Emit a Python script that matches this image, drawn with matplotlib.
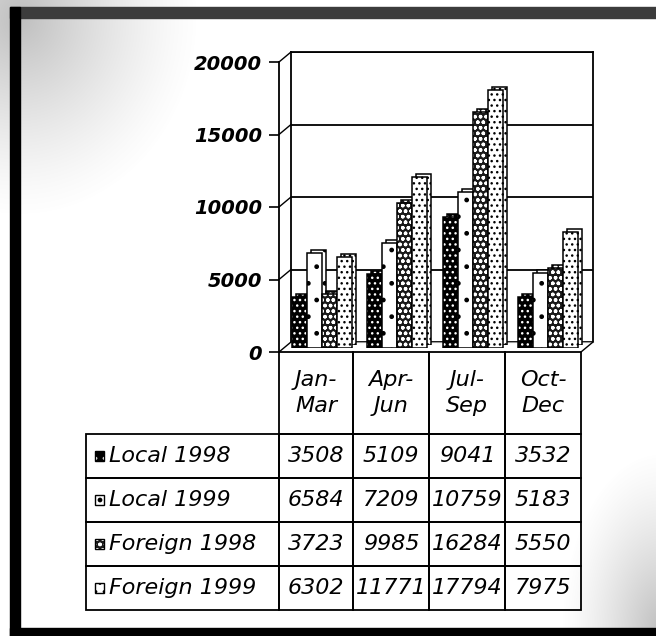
import numpy as np
import matplotlib.pyplot as plt
from matplotlib.patches import Rectangle
from matplotlib.lines import Line2D

plt.rcParams['font.family'] = ['DejaVu Sans']

# data
quarters = ['Jan-\nMar', 'Apr-\nJun', 'Jul-\nSep', 'Oct-\nDec']
series_names = ['Local 1998', 'Local 1999', 'Foreign 1998', 'Foreign 1999']
local_1998 = [3508, 5109, 9041, 3532]
local_1999 = [6584, 7209, 10759, 5183]
foreign_1998 = [3723, 9985, 16284, 5550]
foreign_1999 = [6302, 11771, 17794, 7975]
yticks = [0, 5000, 10000, 15000, 20000]

series = [local_1998, local_1999, foreign_1998, foreign_1999]
# face colour, hatch colour, hatch
styles = [('black', 'white', '...'),
          ('white', 'black', '.'),
          ('#1a1a1a', 'white', 'ooo'),
          ('white', 'black', '...')]

W, H = 656, 636
fig = plt.figure(figsize=(W / 100, H / 100), dpi=100)


def box(x0, y0, x1, y1):
    # pixel box (y measured from the top) -> figure fraction
    return [x0 / W, 1 - y1 / H, (x1 - x0) / W, (y1 - y0) / H]


# background: scanned grey corners and the dark frame
bg = fig.add_axes([0, 0, 1, 1], zorder=-10)
bg.set_xlim(0, W)
bg.set_ylim(H, 0)
bg.axis('off')
yy, xx = np.mgrid[0:H, 0:W]
d1 = np.hypot((xx - 20) / 180.0, (yy - 18) / 200.0)
d2 = np.hypot((xx - 660) / 100.0, (yy - 630) / 180.0)
shade = np.clip(1 - d1, 0, 1) ** 1.3 * 0.5 + np.clip(1 - d2, 0, 1) ** 1.3 * 0.5
img = np.ones((H, W, 4))
img[..., :3] = 0.5
img[..., 3] = np.clip(shade, 0, 0.55)
bg.imshow(img, extent=[0, W, H, 0], aspect='auto', interpolation='bilinear')
bg.add_patch(Rectangle((10, 7), 646, 11, color='#3c3c3c'))
bg.add_patch(Rectangle((10, 7), 10, 629, color='black'))
bg.add_patch(Rectangle((10, 628), 646, 8, color='black'))

# back wall of the 3D box
ax_b = fig.add_axes(box(291, 52, 593, 342), zorder=1)
ax_b.set_xlim(-0.5, 3.5)
ax_b.set_ylim(0, 20000)
ax_b.set_xticks([])
ax_b.set_yticks(yticks)
ax_b.tick_params(length=0, labelleft=False)
ax_b.yaxis.grid(True, color='black', lw=1.3)
for sp in ax_b.spines.values():
    sp.set_linewidth(1.3)
ax_b.spines['bottom'].set_color('#999999')
ax_b.spines['bottom'].set_linewidth(0.8)

# bars: a shadow copy (side/top faces) and the front faces
ax_s = fig.add_axes(box(288, 55, 590, 345), zorder=2)
ax_m = fig.add_axes(box(284, 58, 586, 348), zorder=3)
w = 0.2
x = np.arange(len(quarters))
for a in (ax_s, ax_m):
    a.set_xlim(-0.5, 3.5)
    a.set_ylim(0, 20000)
    a.axis('off')
    a.patch.set_alpha(0)
    for k, (vals, (fc, hc, hatch)) in enumerate(zip(series, styles)):
        xs = x + (k - 1.5) * w
        a.bar(xs, vals, w, color=fc, edgecolor=hc, hatch=hatch, linewidth=0)
        a.bar(xs, vals, w, fill=False, edgecolor='black', linewidth=1.1)

# front: value axis with ticks
ax_f = fig.add_axes(box(279, 62, 581, 352), zorder=4)
ax_f.set_xlim(-0.5, 3.5)
ax_f.set_ylim(0, 20000)
ax_f.patch.set_alpha(0)
for s in ['top', 'right', 'bottom']:
    ax_f.spines[s].set_visible(False)
ax_f.spines['left'].set_linewidth(1.3)
ax_f.set_xticks([])
ax_f.set_yticks(yticks)
ax_f.set_yticklabels([str(t) for t in yticks], fontsize=14,
                     fontweight='bold', fontstyle='italic')
ax_f.tick_params(axis='y', length=7, width=1.2, pad=5)
# depth connectors from the axis to the back wall
dx = 12 / 302
dy = 20000 * 10 / 290
for t in yticks:
    ax_f.add_line(Line2D([0, dx], [t, t + dy], color='black', lw=1,
                         transform=ax_f.get_yaxis_transform(), clip_on=False))
ax_f.add_line(Line2D([1, 1 + dx], [0, 10 / 290], color='black', lw=1,
                     transform=ax_f.transAxes, clip_on=False))

# data table, drawn in pixel units
tax = fig.add_axes(box(80, 346, 590, 614), zorder=5)
tax.set_xlim(80, 590)
tax.set_ylim(614, 346)
tax.axis('off')
col_edges = [279, 353, 429, 505, 581]
label_x0 = 86
top = 352
head_h, row_h = 82, 44
txt = dict(fontsize=16, fontstyle='italic', va='center')
lw = 1.3

for j, q in enumerate(quarters):
    x0, x1 = col_edges[j], col_edges[j + 1]
    tax.add_patch(Rectangle((x0, top), x1 - x0, head_h, fill=False,
                            edgecolor='black', lw=lw))
    tax.text((x0 + x1) / 2, top + head_h / 2, q, ha='center',
             linespacing=1.35, **txt)

for i, name in enumerate(series_names):
    y0 = top + head_h + i * row_h
    cy = y0 + row_h / 2
    tax.add_patch(Rectangle((label_x0, y0), col_edges[0] - label_x0, row_h,
                            fill=False, edgecolor='black', lw=lw))
    fc, hc, hatch = styles[i]
    tax.add_patch(Rectangle((95, cy - 5), 9, 10, facecolor=fc, edgecolor=hc,
                            hatch=hatch.replace('...', '..'), linewidth=0))
    tax.add_patch(Rectangle((95, cy - 5), 9, 10, fill=False,
                            edgecolor='black', linewidth=1))
    tax.text(109, cy, name, ha='left', **txt)
    for j, v in enumerate(series[i]):
        x0, x1 = col_edges[j], col_edges[j + 1]
        tax.add_patch(Rectangle((x0, y0), x1 - x0, row_h, fill=False,
                                edgecolor='black', lw=lw))
        tax.text((x0 + x1) / 2, cy, str(v), ha='center', **txt)

fig.savefig('out.png', dpi=100)
